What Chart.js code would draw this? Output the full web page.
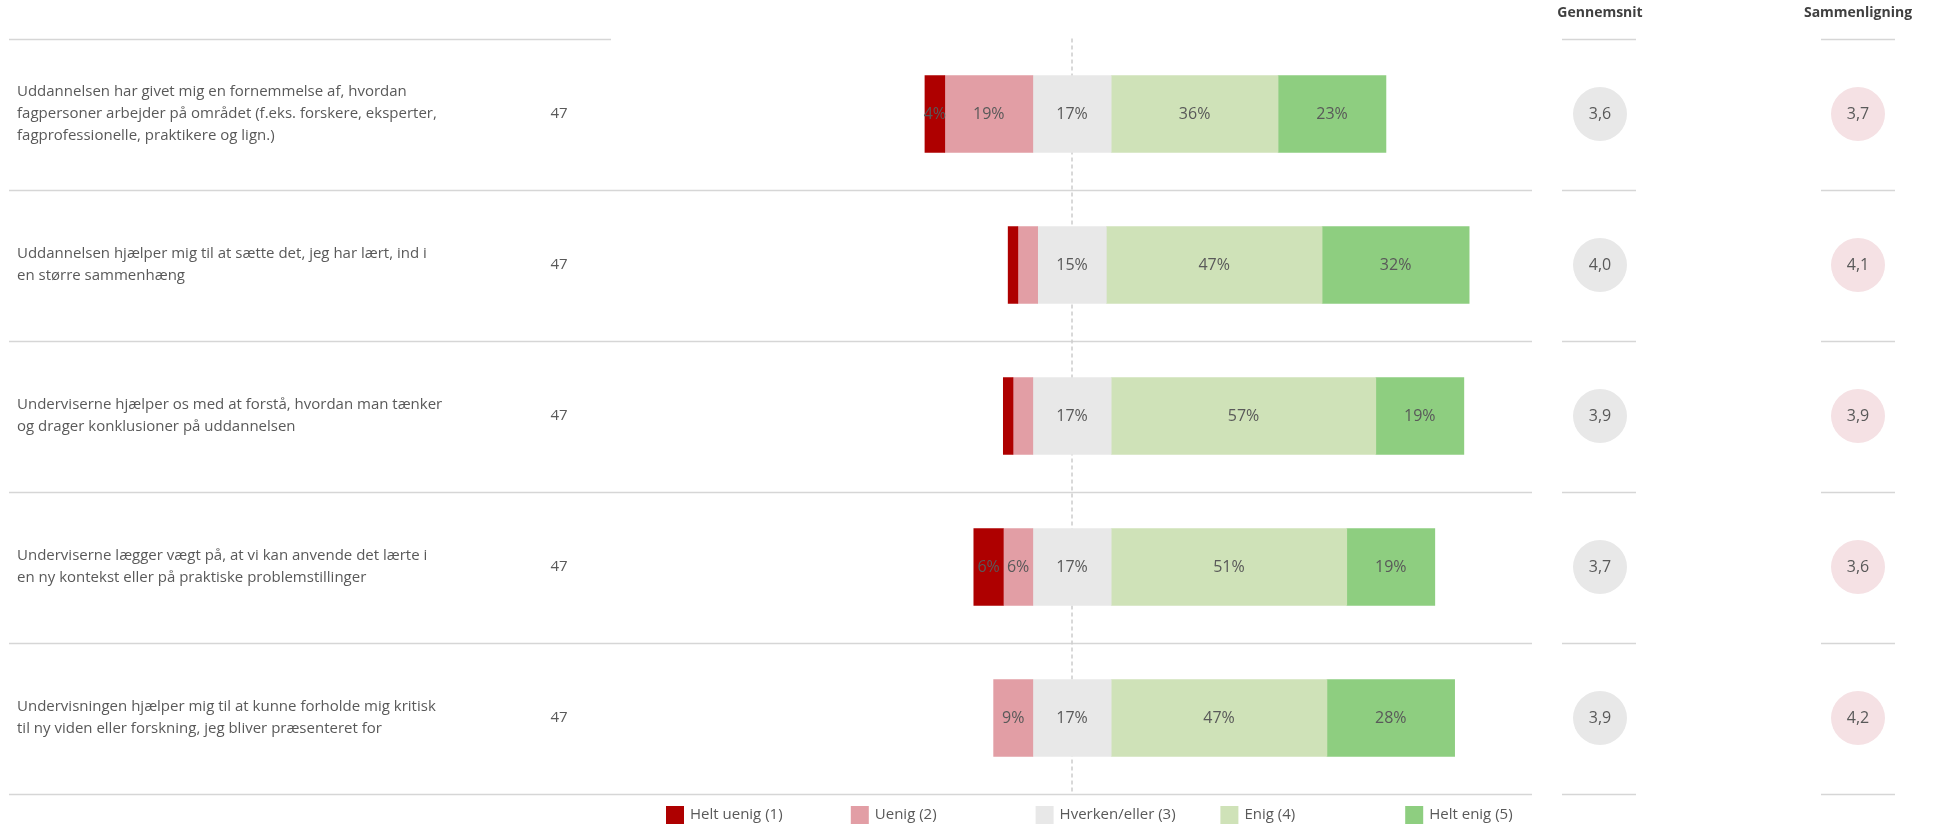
<!DOCTYPE html>
<html>
<head>
<meta charset="utf-8">
<script src="https://cdn.jsdelivr.net/npm/chart.js@4.4.0/dist/chart.umd.min.js"></script>
<style>
  html, body { margin: 0; padding: 0; background: #fff; }
  #wrap { width: 1942px; height: 825px; position: relative; }
</style>
</head>
<body>
<div id="wrap"><canvas id="myChart" width="1942" height="825"></canvas></div>
<script>
// values, n = 47 per question
const questions = [
  ["Uddannelsen har givet mig en fornemmelse af, hvordan", "fagpersoner arbejder på området (f.eks. forskere, eksperter,", "fagprofessionelle, praktikere og lign.)"],
  ["Uddannelsen hjælper mig til at sætte det, jeg har lært, ind i", "en større sammenhæng"],
  ["Underviserne hjælper os med at forstå, hvordan man tænker", "og drager konklusioner på uddannelsen"],
  ["Underviserne lægger vægt på, at vi kan anvende det lærte i", "en ny kontekst eller på praktiske problemstillinger"],
  ["Undervisningen hjælper mig til at kunne forholde mig kritisk", "til ny viden eller forskning, jeg bliver præsenteret for"]
];
const answers = [47, 47, 47, 47, 47];
const heltUenig = [4.3, 2.1, 2.1, 6.4, 0];
const uenig = [19.1, 4.3, 4.3, 6.4, 8.5];
const hverken = [17.0, 14.9, 17.0, 17.0, 17.0];
const enig = [36.2, 46.8, 57.4, 51.1, 46.8];
const heltEnig = [23.4, 31.9, 19.1, 19.1, 27.7];
const gennemsnit = [3.6, 4.0, 3.9, 3.7, 3.9];
const sammenligning = [3.7, 4.1, 3.9, 3.6, 4.2];
const legendLabels = ["Helt uenig (1)", "Uenig (2)", "Hverken/eller (3)", "Enig (4)", "Helt enig (5)"];
const colors = ["#AE0000", "#E29EA5", "#E8E8E8", "#CFE2B8", "#8ECE80"];
// small segments that still get a label in the original
const extraLabels = [[0, 0]];

const FONT = '"Segoe UI", "Open Sans", sans-serif';
const TXT = "#595959";
const LINE = "#d6d6d6";

const series = [heltUenig, uenig, hverken, enig, heltEnig];

// diverging bars: neutral category centred on zero
const datasets = series.map(function(vals, s) {
  return {
    label: legendLabels[s],
    data: vals.map(function(v, i) {
      if (v === 0) return null;
      let start = -(heltUenig[i] + uenig[i] + hverken[i] / 2);
      for (let k = 0; k < s; k++) start += series[k][i];
      return [start, start + v];
    }),
    backgroundColor: colors[s],
    borderWidth: 0,
    grouped: false,
    barThickness: 77
  };
});

function fmt(v) {
  return v.toFixed(1).replace(".", ",");
}

const tablePlugin = {
  id: "table",
  beforeDatasetsDraw(chart) {
    const ctx = chart.ctx;
    const ys = chart.scales.y;
    const xs = chart.scales.x;
    const area = chart.chartArea;
    const band = (area.bottom - area.top) / questions.length;

    ctx.save();
    // headers
    ctx.fillStyle = "#404040";
    ctx.font = "bold 14px " + FONT;
    ctx.textAlign = "center";
    ctx.textBaseline = "middle";
    ctx.fillText("Gennemsnit", 1600, 13);
    ctx.fillText("Sammenligning", 1858, 13);

    // separators
    ctx.strokeStyle = LINE;
    ctx.lineWidth = 1.5;
    for (let i = 0; i <= questions.length; i++) {
      const y = Math.round(area.top + i * band) + 0.5;
      ctx.beginPath();
      ctx.moveTo(9, y);
      ctx.lineTo(i === 0 ? 611 : 1532, y);
      ctx.moveTo(1562, y);
      ctx.lineTo(1636, y);
      ctx.moveTo(1821, y);
      ctx.lineTo(1895, y);
      ctx.stroke();
    }

    // centre line
    const x0 = xs.getPixelForValue(0);
    ctx.setLineDash([4, 3]);
    ctx.strokeStyle = "#cccccc";
    ctx.beginPath();
    ctx.moveTo(x0, area.top);
    ctx.lineTo(x0, area.bottom);
    ctx.stroke();
    ctx.setLineDash([]);

    // question texts, n and averages
    for (let i = 0; i < questions.length; i++) {
      const cy = ys.getPixelForValue(i);
      const lines = questions[i];
      ctx.fillStyle = TXT;
      ctx.font = "15px " + FONT;
      ctx.textAlign = "left";
      lines.forEach(function(t, k) {
        ctx.fillText(t, 17, cy + (k - (lines.length - 1) / 2) * 22.2);
      });
      ctx.textAlign = "center";
      ctx.fillText(String(answers[i]), 559, cy);

      ctx.fillStyle = "#E8E8E8";
      ctx.beginPath();
      ctx.arc(1600, cy, 27, 0, Math.PI * 2);
      ctx.fill();
      ctx.fillStyle = "#F5E1E4";
      ctx.beginPath();
      ctx.arc(1858, cy, 27, 0, Math.PI * 2);
      ctx.fill();
      ctx.fillStyle = TXT;
      ctx.font = "16px " + FONT;
      ctx.fillText(fmt(gennemsnit[i]), 1600, cy);
      ctx.fillText(fmt(sammenligning[i]), 1858, cy);
    }

    // legend
    ctx.font = "15px " + FONT;
    ctx.textAlign = "left";
    chart.data.datasets.forEach(function(ds, s) {
      const lx = 666 + s * 184.8;
      ctx.fillStyle = ds.backgroundColor;
      ctx.fillRect(lx, 806, 18, 18);
      ctx.fillStyle = TXT;
      ctx.fillText(ds.label, lx + 24, 815);
    });
    ctx.restore();
  },
  afterDatasetsDraw(chart) {
    const ctx = chart.ctx;
    ctx.save();
    ctx.fillStyle = TXT;
    ctx.font = "16px " + FONT;
    ctx.textAlign = "center";
    ctx.textBaseline = "middle";
    chart.data.datasets.forEach(function(ds, s) {
      const meta = chart.getDatasetMeta(s);
      meta.data.forEach(function(bar, i) {
        const v = series[s][i];
        const extra = extraLabels.some(function(e) { return e[0] === s && e[1] === i; });
        if (v < 5 && !extra) return;
        const p = bar.getCenterPoint();
        ctx.fillText(Math.round(v) + "%", p.x, p.y);
      });
    });
    ctx.restore();
  }
};

const ctx = document.getElementById("myChart").getContext("2d");
const myChart = new Chart(ctx, {
  type: "bar",
  data: {
    labels: questions.map(function(q) { return q.join(" "); }),
    datasets: datasets
  },
  options: {
    indexAxis: "y",
    responsive: false,
    animation: false,
    layout: { padding: { top: 38.5, bottom: 31.5, left: 0, right: 0 } },
    scales: {
      x: { type: "linear", min: -232.54, max: 188.72, display: false },
      y: { type: "category", display: false }
    },
    plugins: {
      legend: { display: false },
      tooltip: { enabled: false }
    }
  },
  plugins: [tablePlugin]
});
</script>
</body>
</html>
